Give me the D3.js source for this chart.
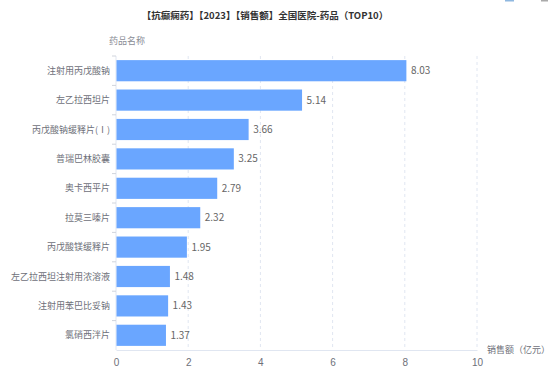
<!DOCTYPE html>
<html>
<head>
<meta charset="utf-8">
<script src="https://cdn.jsdelivr.net/npm/d3@7"></script>
<style>
  body { margin: 0; background: #fff; }
  svg { display: block; font-family: "Noto Sans CJK SC", "Noto Sans", sans-serif; }
</style>
</head>
<body>
<div id="chart"></div>
<script>
// data, top to bottom
var drugs = ["注射用丙戊酸钠", "左乙拉西坦片", "丙戊酸钠缓释片(Ⅰ)", "普瑞巴林胶囊", "奥卡西平片",
             "拉莫三嗪片", "丙戊酸镁缓释片", "左乙拉西坦注射用浓溶液", "注射用苯巴比妥钠", "氯硝西泮片"];
var sales = [8.03, 5.14, 3.66, 3.25, 2.79, 2.32, 1.95, 1.48, 1.43, 1.37];
var xTicks = [0, 2, 4, 6, 8, 10];

var width = 554, height = 373;
var margin = {top: 56, right: 77, bottom: 23, left: 116};

var svg = d3.select("#chart").append("svg")
    .attr("width", width)
    .attr("height", height);

var x = d3.scaleLinear()
    .domain([0, 10])
    .range([margin.left, width - margin.right]);

var y = d3.scaleBand()
    .domain(drugs)
    .range([margin.top, height - margin.bottom])
    .paddingInner(0.28)
    .paddingOuter(0.14);

var yTickBand = d3.scaleBand()
    .domain(drugs)
    .range([margin.top, height - margin.bottom]);

// title
svg.append("text")
    .attr("x", 265)
    .attr("y", 19)
    .attr("text-anchor", "middle")
    .style("font-size", "9.5px")
    .style("font-weight", "bold")
    .style("fill", "#333")
    .text("【抗癫痫药】【2023】【销售额】全国医院-药品（TOP10）");

// grid
svg.append("g").selectAll("line")
    .data(xTicks.filter(function(d) { return d > 0; }))
    .enter().append("line")
    .attr("x1", function(d) { return x(d); })
    .attr("x2", function(d) { return x(d); })
    .attr("y1", margin.top)
    .attr("y2", height - margin.bottom)
    .style("stroke", "#e0e6f1")
    .style("stroke-dasharray", "3,3");

// x axis
var xAxis = svg.append("g")
    .attr("transform", "translate(0," + (height - margin.bottom) + ")")
    .call(d3.axisBottom(x).tickValues(xTicks).tickSize(0).tickPadding(9));
xAxis.select(".domain").style("stroke", "#e0e6f1");
xAxis.selectAll("text").style("fill", "#6e7079").style("font-size", "10px");

// y axis
var yAxis = svg.append("g")
    .attr("transform", "translate(" + margin.left + ",0)");
yAxis.append("line")
    .attr("x1", 0).attr("x2", 0)
    .attr("y1", margin.top).attr("y2", height - margin.bottom)
    .style("stroke", "#e0e6f1");
yAxis.selectAll(".tick-mark")
    .data(drugs)
    .enter().append("line")
    .attr("x1", -4).attr("x2", 0)
    .attr("y1", function(d) { return yTickBand(d); })
    .attr("y2", function(d) { return yTickBand(d); })
    .style("stroke", "#d0d4dc");
yAxis.selectAll(".label")
    .data(drugs)
    .enter().append("text")
    .attr("x", -6)
    .attr("y", function(d) { return yTickBand(d) + yTickBand.bandwidth() / 2; })
    .attr("dy", ".35em")
    .attr("text-anchor", "end")
    .style("font-size", "9px")
    .style("fill", "#6e7079")
    .text(function(d) { return d; });

// axis names
svg.append("text")
    .attr("x", 109)
    .attr("y", 44)
    .style("font-size", "9px")
    .style("fill", "#8a8d96")
    .text("药品名称");

svg.append("text")
    .attr("x", 487)
    .attr("y", 353)
    .style("font-size", "9px")
    .style("fill", "#6e7079")
    .text("销售额（亿元）");

// bars
svg.append("g").selectAll("rect")
    .data(sales)
    .enter().append("rect")
    .attr("x", x(0) + 0.5)
    .attr("y", function(d, i) { return y(drugs[i]); })
    .attr("width", function(d) { return x(d) - x(0); })
    .attr("height", y.bandwidth())
    .style("fill", "#6aa6ff");

// value labels
svg.append("g").selectAll("text")
    .data(sales)
    .enter().append("text")
    .attr("x", function(d) { return x(d) + 5; })
    .attr("y", function(d, i) { return y(drugs[i]) + y.bandwidth() / 2; })
    .attr("dy", ".35em")
    .style("font-size", "10px")
    .style("fill", "#666")
    .text(function(d) { return d.toFixed(2); });

// toolbox stubs
svg.append("rect").attr("x", 505).attr("y", 0).attr("width", 9).attr("height", 1.5).style("fill", "#8fb8e0");
svg.append("rect").attr("x", 541).attr("y", 0).attr("width", 7).attr("height", 1.5).style("fill", "#aaa");
</script>
</body>
</html>
